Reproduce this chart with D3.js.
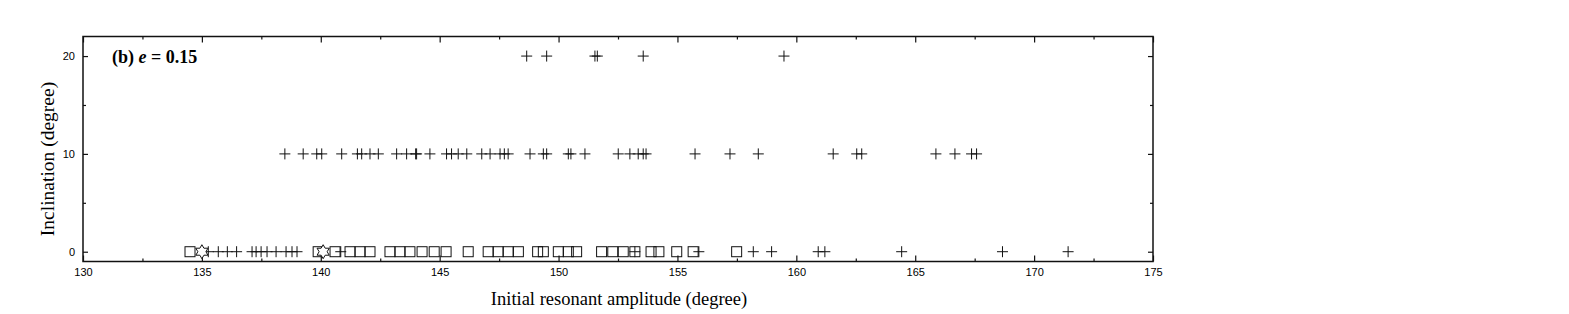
<!DOCTYPE html>
<html>
<head>
<meta charset="utf-8">
<script src="https://cdn.jsdelivr.net/npm/d3@7"></script>
<style>
  body { margin: 0; background: #fff; }
  svg { display: block; }
  .tick text { font-family: "Liberation Sans", Arial, sans-serif; font-size: 11px; fill: #000; }
  .tick line { stroke: #111; stroke-width: 1.2; }
</style>
</head>
<body>
<script>
// x positions (degree), grouped by inclination row
const crossAt20 = [148.66, 149.5, 151.53, 151.63, 153.56, 159.48];
const crossAt10 = [138.49, 139.26, 139.83, 140.04, 140.88, 141.54, 141.72, 142.07, 142.42,
  143.19, 143.61, 143.99, 144.03, 144.59, 145.29, 145.5, 145.78, 146.14, 146.77, 147.12,
  147.54, 147.72, 147.88, 148.8, 149.36, 149.5, 150.41, 150.52, 151.11, 152.51, 153.0,
  153.35, 153.56, 153.68, 155.74, 157.21, 158.4, 161.55, 162.54, 162.75, 165.87, 166.67,
  167.37, 167.58];
const crossAt0 = [135.27, 135.69, 136.07, 136.46, 137.11, 137.28, 137.49, 137.74, 138.12,
  138.54, 138.79, 139.0, 140.84, 153.21, 155.9, 158.19, 158.96, 160.92, 161.2, 164.43,
  168.67, 171.43];
const squareAt0 = [134.5, 139.89, 140.6, 141.23, 141.65, 142.07, 142.91, 143.33, 143.75,
  144.26, 144.77, 145.27, 146.2, 147.04, 147.46, 147.88, 148.31, 149.12, 149.36, 149.99,
  150.41, 150.76, 151.81, 152.28, 152.72, 153.21, 153.89, 154.22, 154.97, 155.66, 157.49];
const starAt0 = [135.0, 140.1];

const xMajor = [130, 135, 140, 145, 150, 155, 160, 165, 170, 175];
const xMinor = [132.5, 137.5, 142.5, 147.5, 152.5, 157.5, 162.5, 167.5, 172.5];
const yMajor = [0, 10, 20];
const yMinor = [5, 15];

const box = { width: 1569, height: 314, left: 83, right: 1153, top: 36.5, bottom: 261.5 };

const svg = d3.select('body').append('svg')
  .attr('width', box.width)
  .attr('height', box.height);

const x = d3.scaleLinear().domain([130, 175]).range([box.left, box.right]);
const y = d3.scaleLinear().domain([-1, 22]).range([box.bottom, box.top]);

// axes, ticks pointing inward on all four sides
function addAxis(axis, tx, ty) {
  const g = svg.append('g')
    .attr('transform', `translate(${tx}, ${ty})`)
    .call(axis);
  g.select('.domain').remove();
  return g;
}

addAxis(d3.axisBottom(x).tickValues(xMajor).tickSize(-6).tickPadding(7).tickFormat(d3.format('d')), 0, box.bottom);
addAxis(d3.axisBottom(x).tickValues(xMinor).tickSize(-3).tickFormat(''), 0, box.bottom);
addAxis(d3.axisTop(x).tickValues(xMajor).tickSize(-6).tickFormat(''), 0, box.top);
addAxis(d3.axisTop(x).tickValues(xMinor).tickSize(-3).tickFormat(''), 0, box.top);
addAxis(d3.axisLeft(y).tickValues(yMajor).tickSize(-5).tickPadding(8).tickFormat(d3.format('d')), box.left, 0);
addAxis(d3.axisLeft(y).tickValues(yMinor).tickSize(-3).tickFormat(''), box.left, 0);
addAxis(d3.axisRight(y).tickValues(yMajor).tickSize(-5).tickFormat(''), box.right, 0);
addAxis(d3.axisRight(y).tickValues(yMinor).tickSize(-3).tickFormat(''), box.right, 0);

svg.append('rect')
  .attr('x', box.left)
  .attr('y', box.top)
  .attr('width', box.right - box.left)
  .attr('height', box.bottom - box.top)
  .style('fill', 'none')
  .style('stroke', '#111')
  .style('stroke-width', 1.5);

const marks = svg.append('g')
  .style('fill', 'none')
  .style('stroke', '#111')
  .style('stroke-width', 1);

const cr = 5.5;
function crosses(data, level) {
  marks.selectAll(null)
    .data(data)
    .enter().append('path')
    .attr('d', d => {
      const cx = x(d), cy = y(level);
      return `M${cx - cr},${cy}H${cx + cr}M${cx},${cy - cr}V${cy + cr}`;
    });
}
crosses(crossAt20, 20);
crosses(crossAt10, 10);
crosses(crossAt0, 0);

const sq = 5;
marks.selectAll(null)
  .data(squareAt0)
  .enter().append('rect')
  .attr('x', d => x(d) - sq)
  .attr('y', y(0) - sq)
  .attr('width', 2 * sq)
  .attr('height', 2 * sq);

// six pointed star outline
function hexagram(cx, cy, R) {
  const r = R / Math.sqrt(3);
  const pts = [];
  for (let i = 0; i < 12; i++) {
    const a = -Math.PI / 2 + i * Math.PI / 6;
    const rad = i % 2 === 0 ? R : r;
    pts.push([cx + rad * Math.cos(a), cy + rad * Math.sin(a)]);
  }
  return 'M' + pts.map(p => p.join(',')).join('L') + 'Z';
}
marks.selectAll(null)
  .data(starAt0)
  .enter().append('path')
  .attr('d', d => hexagram(x(d), y(0), 7))
  .style('fill', '#fff');

// titles
svg.append('text')
  .attr('x', (box.left + box.right) / 2 + 1)
  .attr('y', 305)
  .attr('text-anchor', 'middle')
  .style('font-family', '"Liberation Serif", "Times New Roman", serif')
  .style('font-size', '18.5px')
  .text('Initial resonant amplitude (degree)');

svg.append('text')
  .attr('transform', 'translate(54, 159) rotate(-90)')
  .attr('text-anchor', 'middle')
  .style('font-family', '"Liberation Serif", "Times New Roman", serif')
  .style('font-size', '19.5px')
  .text('Inclination (degree)');

const lab = svg.append('text')
  .attr('x', 112)
  .attr('y', 63)
  .style('font-family', '"Liberation Serif", "Times New Roman", serif')
  .style('font-size', '18px')
  .style('font-weight', 'bold');
lab.append('tspan').text('(b) ');
lab.append('tspan').style('font-style', 'italic').text('e');
lab.append('tspan').text(' = 0.15');
</script>
</body>
</html>
